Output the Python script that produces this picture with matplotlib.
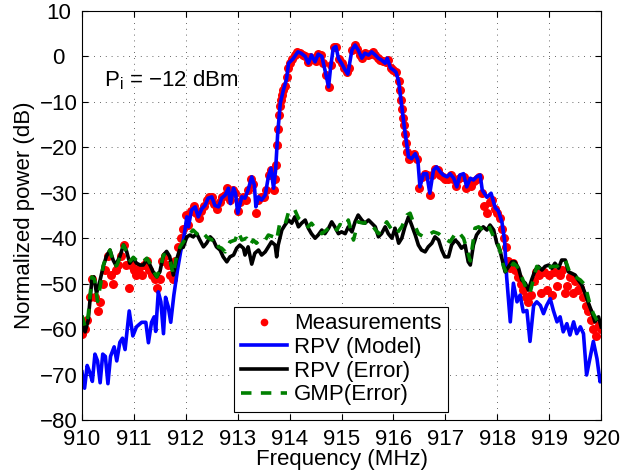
import numpy as np
import matplotlib
matplotlib.use("Agg")
import matplotlib.pyplot as plt

plt.rcParams['font.family'] = ['Liberation Sans', 'DejaVu Sans']
plt.rcParams['mathtext.default'] = 'regular'

# measured spectrum (red dots)
meas_freq = [
    910.00, 910.05, 910.10, 910.15, 910.20, 910.25, 910.30, 910.35, 910.40, 910.45,
    910.50, 910.55, 910.60, 910.65, 910.70, 910.75, 910.80, 910.85, 910.90, 910.95,
    911.00, 911.05, 911.10, 911.15, 911.20, 911.25, 911.30, 911.35, 911.40, 911.45,
    911.50, 911.55, 911.60, 911.65, 911.70, 911.75, 911.80, 911.85, 911.90, 911.95,
    912.00, 912.05, 912.10, 912.15, 912.20, 912.25, 912.30, 912.35, 912.40, 912.45,
    912.50, 912.55, 912.60, 912.65, 912.70, 912.75, 912.80, 912.85, 912.90, 912.95,
    913.00, 913.05, 913.10, 913.15, 913.20, 913.25, 913.30, 913.35, 913.40, 913.45,
    913.50, 913.55, 913.60, 913.65, 913.70, 913.72, 913.74, 913.76, 913.78, 913.80,
    913.82, 913.84, 913.86, 913.88, 913.91, 913.94, 913.97, 914.00, 914.05, 914.10,
    914.15, 914.20, 914.25, 914.30, 914.35, 914.40, 914.45, 914.50, 914.55, 914.60,
    914.65, 914.70, 914.75, 914.80, 914.85, 914.90, 914.95, 915.00, 915.05, 915.10,
    915.15, 915.20, 915.25, 915.30, 915.35, 915.40, 915.45, 915.50, 915.55, 915.60,
    915.65, 915.70, 915.75, 915.80, 915.85, 915.90, 915.95, 916.00, 916.05, 916.10,
    916.12, 916.14, 916.16, 916.18, 916.20, 916.22, 916.24, 916.27, 916.30, 916.35,
    916.40, 916.45, 916.50, 916.55, 916.60, 916.65, 916.70, 916.75, 916.80, 916.85,
    916.90, 916.95, 917.00, 917.05, 917.10, 917.15, 917.20, 917.25, 917.30, 917.35,
    917.40, 917.45, 917.50, 917.55, 917.60, 917.65, 917.70, 917.75, 917.80, 917.85,
    917.90, 917.95, 918.00, 918.05, 918.10, 918.13, 918.16, 918.20, 918.25, 918.30,
    918.35, 918.40, 918.45, 918.50, 918.55, 918.60, 918.65, 918.70, 918.75, 918.80,
    918.85, 918.90, 918.95, 919.00, 919.05, 919.10, 919.15, 919.20, 919.25, 919.30,
    919.35, 919.40, 919.45, 919.50, 919.55, 919.60, 919.65, 919.70, 919.75, 919.80,
    919.85, 919.90, 919.95, 920.00]
meas_db = [
    -61, -60, -58, -53, -49, -53, -56, -54, -50, -47,
    -44, -48, -50, -47, -46, -44, -41.5, -46, -51, -46,
    -47, -48, -46.5, -48, -46, -45, -47, -48, -49, -51,
    -49, -45, -44, -46, -48, -49, -45, -42, -40, -38,
    -35, -37, -34, -33, -34.5, -35.5, -34, -33, -31.5, -31,
    -31, -32.5, -33.5, -32, -31, -30.5, -29, -31.5, -29.5, -30,
    -34, -32, -31, -31.5, -29.5, -27, -28, -34.5, -31.5, -31,
    -31, -29.5, -26, -25, -29.5, -27, -24, -19.5, -16, -13,
    -11, -9.5, -8.5, -7.5, -6.5, -4.5, -2.5, -1.5, -0.6, 0.2,
    1.0, 0.8, 0.3, 0.0, -1.3, -0.2, -0.5, -1.0, 0.5, 0.2,
    -1.5, -4.0, -6.7, -1.8, 2.0, 2.0, -0.5, -1.5, -2.5, -3.5,
    -2.5, 1.4, 2.5, 1.6, 0.2, -0.3, 0.7, 0.4, 0.6, 0.9,
    0.3, -0.3, -0.7, -1.0, -1.2, -0.8, -2.5, -3.0, -3.5, -5.5,
    -7.5, -9.5, -11.5, -13.5, -15, -17, -19, -21, -22.5, -22,
    -21.5, -22.5, -29, -26.5, -25.8, -26, -30.5, -26, -24.8, -25,
    -26, -26.5, -27, -27, -26, -27, -28.5, -27, -26.5, -26.5,
    -29, -27.5, -28.5, -27.5, -27, -26.5, -30, -33, -34.5, -32,
    -31.5, -33.5, -34.5, -35.5, -38, -40, -42, -45, -46.5, -45.5,
    -47, -48.5, -50, -51.5, -53, -54, -52.5, -49.5, -47.5, -48,
    -52, -47.5, -51.5, -48, -52.5, -47.5, -50.5, -48, -47, -52,
    -50.5, -48.5, -52, -49.5, -51.5, -51, -53, -55, -56, -58,
    -60, -61.5, -59, -60]

# RPV model output (blue)
model_freq = [
    910.00, 910.05, 910.10, 910.15, 910.20, 910.25, 910.30, 910.35, 910.40, 910.45,
    910.50, 910.55, 910.62, 910.67, 910.73, 910.78, 910.83, 910.91, 910.98, 911.05,
    911.15, 911.23, 911.28, 911.34, 911.39, 911.42, 911.47, 911.52, 911.57, 911.61,
    911.66, 911.71, 911.77, 911.84, 911.90, 911.96, 912.02, 912.05, 912.11, 912.18,
    912.24, 912.31, 912.37, 912.43, 912.50, 912.56, 912.63, 912.69, 912.76, 912.82,
    912.86, 912.92, 912.96, 913.00, 913.08, 913.14, 913.20, 913.27, 913.32, 913.35,
    913.40, 913.46, 913.53, 913.59, 913.64, 913.69, 913.73, 913.77, 913.82, 913.88,
    913.94, 913.98, 914.06, 914.16, 914.22, 914.30, 914.36, 914.42, 914.49, 914.55,
    914.62, 914.68, 914.75, 914.79, 914.84, 914.89, 914.94, 915.00, 915.07, 915.12,
    915.20, 915.26, 915.32, 915.39, 915.45, 915.52, 915.58, 915.65, 915.71, 915.77,
    915.84, 915.88, 915.94, 916.00, 916.05, 916.10, 916.16, 916.22, 916.29, 916.35,
    916.42, 916.47, 916.51, 916.58, 916.64, 916.70, 916.77, 916.83, 916.90, 916.96,
    917.03, 917.09, 917.16, 917.22, 917.28, 917.35, 917.41, 917.48, 917.54, 917.60,
    917.67, 917.71, 917.80, 917.88, 917.96, 918.02, 918.09, 918.14, 918.18, 918.25,
    918.31, 918.38, 918.44, 918.50, 918.57, 918.63, 918.70, 918.76, 918.83, 918.89,
    918.95, 919.02, 919.08, 919.15, 919.21, 919.27, 919.34, 919.40, 919.47, 919.53,
    919.60, 919.66, 919.72, 919.79, 919.85, 919.92, 919.98, 920.00]
model_db = [
    -69.4, -73.0, -68.0, -69.5, -71.5, -65.5, -67.0, -71.8, -65.5, -66.0,
    -72.0, -66.0, -63.9, -67.0, -62.9, -62.0, -64.5, -56.0, -61.5, -59.5,
    -58.5, -58.5, -63.0, -58.5, -57.3, -60.5, -51.8, -54.0, -61.0, -53.0,
    -55.0, -58.5, -52.5, -47.0, -43.0, -40.0, -35.3, -37.5, -33.8, -33.1,
    -35.3, -33.5, -32.8, -31.2, -30.9, -32.8, -33.1, -31.2, -30.5, -29.0,
    -32.4, -29.0, -30.2, -34.5, -30.9, -31.2, -29.4, -26.5, -28.3, -33.1,
    -30.9, -31.6, -30.5, -26.5, -24.6, -29.0, -25.0, -17.0, -10.3, -7.4,
    -5.0, -1.5, -0.6, 1.0, 0.7, 0.0, -1.5, 0.3, -1.2, 0.5,
    0.0, -3.0, -6.7, -2.3, 1.8, 2.2, -0.4, -1.5, -3.0, -3.9,
    1.4, 2.5, 1.4, -0.4, 0.7, 0.3, 1.0, 0.3, -0.4, -0.8,
    -1.5, -0.4, -2.5, -3.0, -3.5, -5.5, -11.0, -16.5, -22.1, -22.5,
    -21.4, -22.9, -28.7, -25.8, -25.8, -30.1, -25.0, -24.3, -25.4, -26.1,
    -26.5, -25.8, -26.8, -28.7, -26.1, -25.8, -28.7, -26.8, -27.2, -26.5,
    -26.1, -29.4, -31.0, -30.1, -33.3, -34.0, -36.5, -40.5, -48.5, -58.4,
    -49.9, -54.0, -52.5, -56.2, -55.9, -62.7, -54.8, -54.0, -54.8, -56.6,
    -54.8, -53.3, -55.9, -58.4, -57.3, -60.6, -58.8, -61.3, -58.4, -61.0,
    -59.5, -61.0, -70.1, -66.1, -62.7, -66.5, -71.6, -70.5]

# RPV error (black)
rpv_err_freq = [
    910.00, 910.06, 910.12, 910.19, 910.23, 910.28, 910.35, 910.41, 910.47, 910.54,
    910.60, 910.65, 910.73, 910.80, 910.86, 910.92, 910.99, 911.05, 911.12, 911.18,
    911.25, 911.31, 911.37, 911.44, 911.50, 911.57, 911.63, 911.69, 911.76, 911.82,
    911.89, 911.95, 912.02, 912.08, 912.14, 912.21, 912.27, 912.34, 912.40, 912.47,
    912.53, 912.59, 912.66, 912.72, 912.79, 912.85, 912.92, 912.98, 913.04, 913.11,
    913.14, 913.20, 913.27, 913.33, 913.40, 913.46, 913.53, 913.59, 913.65, 913.72,
    913.75, 913.78, 913.85, 913.91, 913.98, 914.04, 914.10, 914.17, 914.23, 914.30,
    914.36, 914.42, 914.49, 914.55, 914.62, 914.68, 914.75, 914.81, 914.87, 914.94,
    915.00, 915.07, 915.13, 915.20, 915.26, 915.32, 915.39, 915.45, 915.52, 915.58,
    915.65, 915.71, 915.77, 915.84, 915.90, 915.97, 916.03, 916.10, 916.16, 916.22,
    916.29, 916.35, 916.42, 916.48, 916.54, 916.61, 916.67, 916.74, 916.80, 916.87,
    916.93, 916.99, 917.06, 917.12, 917.19, 917.25, 917.31, 917.38, 917.44, 917.48,
    917.54, 917.60, 917.67, 917.73, 917.80, 917.86, 917.93, 917.99, 918.05, 918.12,
    918.15, 918.22, 918.28, 918.34, 918.41, 918.47, 918.54, 918.60, 918.66, 918.73,
    918.79, 918.86, 918.92, 918.99, 919.05, 919.11, 919.18, 919.24, 919.31, 919.37,
    919.43, 919.50, 919.56, 919.63, 919.69, 919.76, 919.82, 919.88, 919.95, 920.00]
rpv_err_db = [
    -58.5, -60.6, -58.0, -49.2, -48.5, -52.1, -49.2, -46.2, -44.0, -42.6,
    -44.8, -45.9, -44.0, -41.5, -42.9, -45.5, -44.4, -45.5, -45.9, -45.9,
    -44.8, -45.9, -47.4, -48.5, -47.4, -43.7, -42.9, -44.0, -48.1, -44.8,
    -42.2, -42.0, -39.7, -39.3, -39.7, -39.0, -40.4, -41.9, -41.1, -39.7,
    -40.4, -41.9, -42.6, -44.1, -45.2, -44.1, -43.7, -42.2, -41.5, -42.2,
    -43.7, -41.9, -45.7, -43.3, -42.6, -43.7, -43.0, -41.9, -40.8, -41.5,
    -44.1, -41.5, -38.2, -37.1, -36.0, -36.7, -35.3, -37.5, -36.7, -36.0,
    -37.8, -39.0, -40.0, -39.3, -38.2, -39.0, -37.8, -36.4, -37.5, -39.0,
    -38.6, -39.0, -37.5, -38.6, -36.4, -34.9, -36.0, -36.7, -36.0, -36.7,
    -37.5, -39.7, -39.0, -37.5, -39.0, -40.0, -37.8, -41.1, -40.0, -37.5,
    -35.3, -37.1, -39.3, -41.5, -42.6, -43.0, -41.9, -41.1, -39.7, -40.4,
    -42.6, -44.1, -44.1, -41.5, -40.4, -41.1, -42.2, -41.5, -45.2, -45.9,
    -41.5, -39.3, -38.2, -37.5, -38.2, -37.1, -38.2, -41.1, -42.6, -45.9,
    -47.4, -46.2, -45.2, -45.2, -46.6, -49.2, -49.9, -51.4, -49.2, -47.0,
    -46.2, -47.0, -46.2, -45.9, -46.6, -45.5, -46.6, -44.8, -44.8, -47.4,
    -47.7, -48.1, -49.2, -50.3, -52.1, -54.4, -56.2, -58.4, -57.3, -59.5]

# GMP error (green dashed)
gmp_err_freq = [
    910.00, 910.06, 910.12, 910.19, 910.24, 910.30, 910.36, 910.41, 910.47, 910.54,
    910.62, 910.67, 910.74, 910.80, 910.86, 910.93, 910.99, 911.06, 911.12, 911.19,
    911.25, 911.31, 911.37, 911.44, 911.50, 911.57, 911.63, 911.70, 911.76, 911.82,
    911.89, 912.02, 912.14, 912.24, 912.31, 912.40, 912.50, 912.56, 912.63, 912.69,
    912.76, 912.85, 912.95, 913.01, 913.08, 913.17, 913.24, 913.30, 913.36, 913.46,
    913.53, 913.59, 913.69, 913.75, 913.81, 913.91, 913.98, 914.04, 914.10, 914.17,
    914.26, 914.36, 914.42, 914.52, 914.62, 914.71, 914.81, 914.91, 914.97, 915.07,
    915.13, 915.23, 915.32, 915.42, 915.52, 915.61, 915.71, 915.81, 915.87, 915.97,
    916.06, 916.16, 916.26, 916.32, 916.38, 916.48, 916.58, 916.67, 916.77, 916.87,
    916.96, 917.03, 917.09, 917.19, 917.25, 917.35, 917.44, 917.48, 917.57, 917.64,
    917.73, 917.83, 917.93, 917.99, 918.05, 918.12, 918.18, 918.25, 918.31, 918.38,
    918.47, 918.57, 918.63, 918.70, 918.76, 918.86, 918.95, 919.05, 919.15, 919.24,
    919.31, 919.40, 919.50, 919.60, 919.69, 919.79, 919.85, 919.92, 920.00]
gmp_err_db = [
    -57.0, -59.5, -57.0, -48.5, -49.0, -53.9, -50.0, -46.0, -44.0, -42.6,
    -46.2, -46.0, -44.0, -41.5, -43.0, -45.0, -44.2, -45.0, -45.5, -45.0,
    -44.4, -45.5, -47.0, -48.5, -47.0, -43.7, -43.5, -45.0, -48.0, -44.0,
    -41.9, -39.7, -38.2, -39.3, -38.6, -39.7, -40.4, -40.0, -41.9, -42.2,
    -43.0, -40.8, -40.4, -38.6, -40.4, -40.0, -41.5, -40.4, -41.1, -40.0,
    -40.4, -39.3, -39.7, -40.4, -36.7, -37.1, -34.2, -34.5, -33.8, -35.6,
    -36.4, -37.5, -36.7, -38.2, -39.0, -38.2, -37.1, -38.2, -37.0, -37.5,
    -36.0, -40.4, -36.4, -36.7, -36.4, -37.5, -39.0, -37.5, -36.4, -38.2,
    -39.0, -37.5, -34.9, -34.5, -36.4, -39.0, -39.7, -39.3, -38.6, -39.0,
    -40.0, -40.4, -40.8, -39.0, -38.6, -40.0, -43.5, -45.0, -37.8, -37.5,
    -38.2, -37.1, -39.7, -40.4, -42.6, -46.2, -47.7, -46.6, -45.5, -46.2,
    -48.5, -51.4, -52.1, -48.8, -46.2, -47.0, -46.6, -46.2, -46.2, -45.2,
    -44.8, -47.7, -48.5, -49.2, -50.3, -54.8, -56.6, -58.1, -59.5]

x_ticks = np.arange(910, 921, 1)
y_ticks = np.arange(-80, 11, 10)

fig = plt.figure(figsize=(6.21, 4.76), dpi=100)
ax = fig.add_axes([0.132, 0.1176, 0.836, 0.8594])

ax.plot(meas_freq, meas_db, 'o', color='red', markersize=6.5, markeredgewidth=0,
        label='Measurements')
ax.plot(model_freq, model_db, '-', color='blue', lw=2.6, label='RPV (Model)')
ax.plot(rpv_err_freq, rpv_err_db, '-', color='black', lw=2.6, label='RPV (Error)')
ax.plot(gmp_err_freq, gmp_err_db, '--', color='#008000', lw=2.6, dashes=(2.9, 2.6),
        label='GMP(Error)')

ax.text(910.43, -6.5, 'P$_{i}$ = \u221212 dBm', fontsize=16, ha='left', va='baseline')

ax.set_xlim(910, 920)
ax.set_ylim(-80, 10)
ax.set_xticks(x_ticks)
ax.set_yticks(y_ticks)
ax.grid(True, color='0.2', lw=0.6, linestyle=(0, (1, 6)))
ax.set_axisbelow(True)
ax.tick_params(direction='in', length=4, width=0.8, top=True, right=True, labelsize=16)
ax.tick_params(axis='x', pad=6.5)
ax.tick_params(axis='y', pad=17)
for lab in ax.get_yticklabels():
    lab.set_horizontalalignment('center')
    lab.set_verticalalignment('center_baseline')
for sp in ax.spines.values():
    sp.set_linewidth(0.8)

ax.set_xlabel('Frequency (MHz)', fontsize=16, labelpad=-1)
ax.set_ylabel('Normalized power (dB)', fontsize=16, labelpad=3)

leg = ax.legend(loc='lower left', bbox_to_anchor=(0.293, 0.0196), borderaxespad=0,
                fontsize=16, numpoints=1, handlelength=2.1, handletextpad=0.3,
                borderpad=0.3, labelspacing=0.12, fancybox=False, framealpha=1,
                markerscale=0.85)
leg.get_frame().set_edgecolor('black')
leg.get_frame().set_linewidth(0.8)

fig.savefig('out.png', dpi=100)
